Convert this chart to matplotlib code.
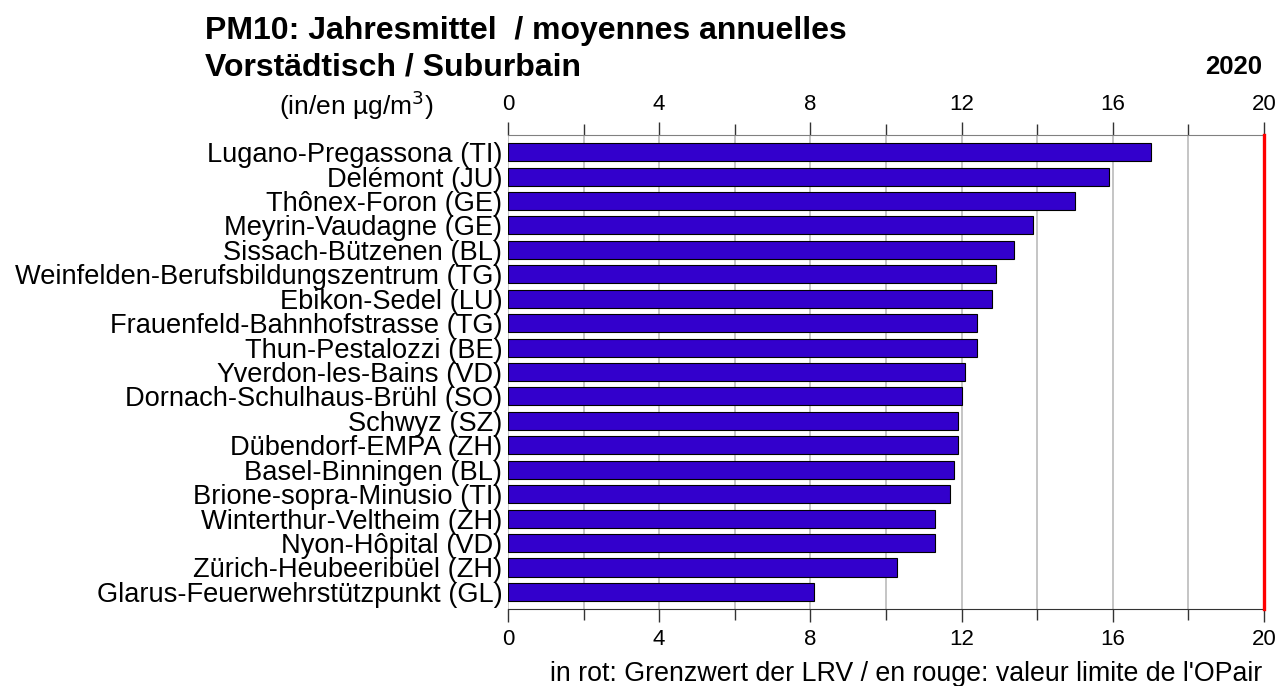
import matplotlib.pyplot as plt
from matplotlib.ticker import MultipleLocator

plt.rcParams['font.family'] = ['Liberation Sans', 'DejaVu Sans']

stationen = [
    "Lugano-Pregassona (TI)",
    "Delémont (JU)",
    "Thônex-Foron (GE)",
    "Meyrin-Vaudagne (GE)",
    "Sissach-Bützenen (BL)",
    "Weinfelden-Berufsbildungszentrum (TG)",
    "Ebikon-Sedel (LU)",
    "Frauenfeld-Bahnhofstrasse (TG)",
    "Thun-Pestalozzi (BE)",
    "Yverdon-les-Bains (VD)",
    "Dornach-Schulhaus-Brühl (SO)",
    "Schwyz (SZ)",
    "Dübendorf-EMPA (ZH)",
    "Basel-Binningen (BL)",
    "Brione-sopra-Minusio (TI)",
    "Winterthur-Veltheim (ZH)",
    "Nyon-Hôpital (VD)",
    "Zürich-Heubeeribüel (ZH)",
    "Glarus-Feuerwehrstützpunkt (GL)",
]
werte = [17.0, 15.9, 15.0, 13.9, 13.4, 12.9, 12.8, 12.4, 12.4, 12.1,
         12.0, 11.9, 11.9, 11.8, 11.7, 11.3, 11.3, 10.3, 8.1]
grenzwert = 20
x_ticks = [0, 4, 8, 12, 16, 20]

fig = plt.figure(figsize=(12.87, 6.86), dpi=100)
ax = fig.add_axes([0.3947, 0.1122, 0.5874, 0.691])

pos = list(range(len(stationen)))
ax.barh(pos, werte, height=0.74, color='#3300cc', edgecolor='black', linewidth=0.8, zorder=3)
# Grenzwert LRV
ax.axvline(grenzwert, color='red', linewidth=2.4, zorder=4, clip_on=False)

ax.set_ylim(len(stationen) - 0.3, -0.7)
ax.set_xlim(0, 20)
ax.set_yticks(pos)
ax.set_yticklabels(stationen, fontsize=19.6)
ax.tick_params(axis='y', length=0, pad=4)

ax.set_xticks(x_ticks)
ax.xaxis.set_minor_locator(MultipleLocator(2))
ax.tick_params(axis='x', which='major', length=9.5, width=1, labelsize=16, pad=5,
               top=True, labeltop=True, bottom=True, labelbottom=True, color='#333333')
ax.tick_params(axis='x', which='minor', length=8, width=1, top=True, bottom=True, color='#333333')
ax.grid(axis='x', which='both', color='#c0c0c0', linewidth=1.3, zorder=0)

ax.spines['left'].set_visible(False)
ax.spines['right'].set_visible(False)
ax.spines['top'].set_color('#808080')
ax.spines['bottom'].set_color('#333333')

fig.text(0.159, 0.955, "PM10: Jahresmittel  / moyennes annuelles", fontsize=23,
         fontweight='bold', va='center', ha='left')
fig.text(0.159, 0.902, "Vorstädtisch / Suburbain", fontsize=23,
         fontweight='bold', va='center', ha='left')
fig.text(0.981, 0.902, "2020", fontsize=18.5, fontweight='bold', va='center', ha='right')
fig.text(0.337, 0.847, r"(in/en µg/m$^3$)", fontsize=19, va='center', ha='right')
fig.text(0.981, 0.017, "in rot: Grenzwert der LRV / en rouge: valeur limite de l'OPair",
         fontsize=19.3, va='center', ha='right')

fig.savefig('out.png', dpi=100)
